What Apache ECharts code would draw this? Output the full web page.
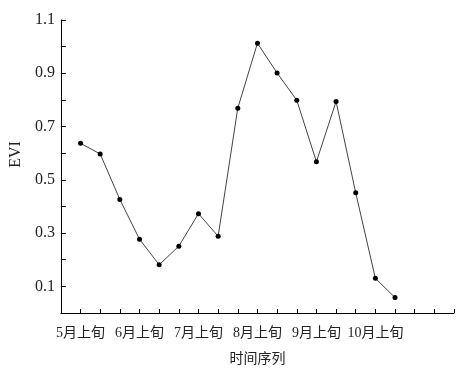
<!DOCTYPE html>
<html>
<head>
<meta charset="utf-8">
<script src="https://cdn.jsdelivr.net/npm/echarts@6/dist/echarts.min.js"></script>
<style>
html,body{margin:0;padding:0;background:#fff;}
#chart{width:467px;height:376px;}
</style>
</head>
<body>
<div id="chart"></div>
<script>
// Categories: dekads (上旬/中旬/下旬) from May to October, plus blank padding
var categories = ['', '5月上旬', '5月中旬', '5月下旬', '6月上旬', '6月中旬', '6月下旬',
  '7月上旬', '7月中旬', '7月下旬', '8月上旬', '8月中旬', '8月下旬',
  '9月上旬', '9月中旬', '9月下旬', '10月上旬', '10月中旬', '10月下旬', '11月上旬', '11月中旬'];
var evi = [null, 0.637, 0.597, 0.426, 0.277, 0.181, 0.251, 0.373, 0.288,
  0.769, 1.013, 0.901, 0.799, 0.568, 0.794, 0.451, 0.130, 0.058, null, null, null];
var shownLabels = ['5月上旬', '6月上旬', '7月上旬', '8月上旬', '9月上旬', '10月上旬'];
var yLabels = ['0.1', '0.3', '0.5', '0.7', '0.9', '1.1'];
var xName = '时间序列';
var yName = 'EVI';

var font = "'Liberation Serif', 'Noto Sans CJK SC', serif";
var chart = echarts.init(document.getElementById('chart'));
chart.setOption({
  animation: false,
  backgroundColor: '#fff',
  grid: {left: 60, right: 13, top: 20, bottom: 63},
  xAxis: {
    type: 'category',
    data: categories,
    boundaryGap: false,
    name: xName,
    nameLocation: 'middle',
    nameGap: 39,
    nameTextStyle: {fontFamily: font, fontSize: 14, color: '#222'},
    axisLine: {lineStyle: {color: '#000', width: 1}},
    axisTick: {inside: true, length: 4, interval: 0, lineStyle: {color: '#000'}},
    axisLabel: {
      interval: function (i, v) { return shownLabels.indexOf(v) >= 0; },
      fontFamily: font, fontSize: 14, color: '#222', margin: 13
    },
    splitLine: {show: false}
  },
  yAxis: {
    type: 'value',
    min: 0, max: 1.1, interval: 0.1,
    name: yName,
    nameLocation: 'middle',
    nameGap: 33,
    nameRotate: 90,
    nameTextStyle: {fontFamily: font, fontSize: 16, color: '#222', padding: [0, 0, 0, 24]},
    axisLine: {show: true, lineStyle: {color: '#000', width: 1}},
    axisTick: {show: true, inside: true, length: 5, lineStyle: {color: '#000'}},
    axisLabel: {
      fontFamily: font, fontSize: 16, color: '#222', margin: 6,
      formatter: function (v) { var s = v.toFixed(1); return yLabels.indexOf(s) >= 0 ? s : ''; }
    },
    splitLine: {show: false}
  },
  series: [{
    type: 'line',
    data: evi,
    connectNulls: false,
    symbol: 'circle',
    symbolSize: 5,
    itemStyle: {color: '#000'},
    lineStyle: {color: '#444', width: 1}
  }]
});
</script>
</body>
</html>
